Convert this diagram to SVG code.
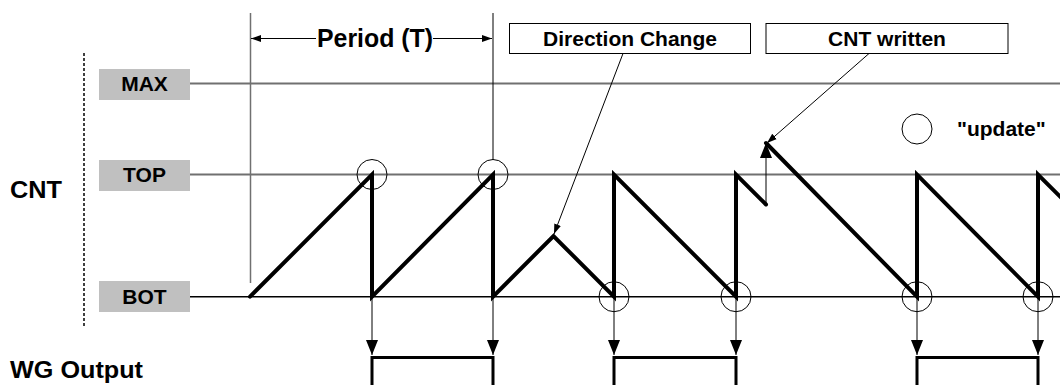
<svg xmlns="http://www.w3.org/2000/svg" width="1060" height="385" viewBox="0 0 1060 385">
<style>
text{font-family:"Liberation Sans",Arial,sans-serif;font-weight:bold;fill:#000}
.lvl{fill:#c0c0c0;stroke:none}
.lbl{font-size:21px;text-anchor:middle}
.big{font-size:23px}
.gl{stroke:#707070;stroke-width:2;fill:none}
.thin{stroke:#000;stroke-width:1;fill:none}
.wave{stroke:#000;stroke-width:4;fill:none;stroke-linejoin:miter;stroke-linecap:round}
.out{stroke:#000;stroke-width:3;fill:none}
.circ{stroke:#000;stroke-width:1;fill:none}
.box{fill:#fff;stroke:#000;stroke-width:1}
</style>
<defs>
<marker id="ah" viewBox="0 0 10 10" refX="10" refY="5" markerWidth="10" markerHeight="10" markerUnits="userSpaceOnUse" orient="auto">
<path d="M0,1.5 L10,5 L0,8.5 Z" fill="#000"/>
</marker>
<marker id="ahb" viewBox="0 0 12 12" refX="12" refY="6" markerWidth="15" markerHeight="12" markerUnits="userSpaceOnUse" orient="auto" preserveAspectRatio="none">
<path d="M0,0 L12,6 L0,12 Z" fill="#000"/>
</marker>
</defs>

<g id="axis">
<line x1="84" y1="53" x2="84" y2="327" stroke="#000" stroke-width="1.5" stroke-dasharray="3,2"/>
<line class="gl" x1="190" y1="83.5" x2="1060" y2="83.5"/>
<line class="gl" x1="190" y1="174.5" x2="1060" y2="174.5"/>
<line x1="190" y1="296.7" x2="1060" y2="296.7" stroke="#000" stroke-width="1.5"/>
<line x1="250.5" y1="13" x2="250.5" y2="283" stroke="#707070" stroke-width="1.5"/>
<line x1="493" y1="13" x2="493" y2="160" stroke="#000" stroke-width="1"/>
</g>

<g id="label-cnt"><text class="big" x="10" y="197.5" textLength="52" lengthAdjust="spacingAndGlyphs">CNT</text></g>
<g id="label-wg"><text class="big" x="10" y="378" textLength="133" lengthAdjust="spacingAndGlyphs">WG Output</text></g>

<g id="node-max"><rect class="lvl" x="99" y="69" width="91" height="31"/><text class="lbl" x="144.5" y="91">MAX</text></g>
<g id="node-top"><rect class="lvl" x="99" y="160" width="91" height="31"/><text class="lbl" x="144.5" y="182">TOP</text></g>
<g id="node-bot"><rect class="lvl" x="99" y="281" width="91" height="31"/><text class="lbl" x="144.5" y="303.5">BOT</text></g>

<g id="node-period"><text x="317" y="46.5" font-size="25" textLength="116" lengthAdjust="spacingAndGlyphs">Period (T)</text></g>
<g id="node-direction"><rect class="box" x="509.5" y="23.5" width="241" height="30"/><text class="lbl" x="630" y="45.5">Direction Change</text></g>
<g id="node-cntwritten"><rect class="box" x="766" y="23.5" width="242" height="30"/><text class="lbl" x="887" y="45.5">CNT written</text></g>
<g id="node-legend"><circle class="circ" cx="917" cy="129" r="15"/><text x="957" y="136" font-size="21">"update"</text></g>

<g id="node-waveform">
<path class="wave" d="M250,296.7 L372,174.5 L372,296.7 L493,174.5 L493,296.7 L553.5,236 L614,296.7 L614,174.5 L736,296.7 L736,174.5 L766,204.5"/>
<path class="wave" d="M766,143 L917,296.7 L917,174.5 L1038,296.7 L1038,174.5 L1070,206.5"/>
</g>

<g id="node-updates">
<circle class="circ" cx="372" cy="174.5" r="15"/>
<circle class="circ" cx="493" cy="174.5" r="15"/>
<circle class="circ" cx="614" cy="296.7" r="15"/>
<circle class="circ" cx="736" cy="296.7" r="15"/>
<circle class="circ" cx="917" cy="296.7" r="15"/>
<circle class="circ" cx="1038" cy="296.7" r="15"/>
</g>

<g id="node-wgoutput">
<path class="out" d="M372,385 L372,357.5 L493,357.5 L493,385"/>
<path class="out" d="M614,385 L614,357.5 L736,357.5 L736,385"/>
<path class="out" d="M917,385 L917,357.5 L1038,357.5 L1038,385"/>
</g>

<g id="connectors">
<line class="thin" x1="316" y1="38.5" x2="251" y2="38.5" marker-end="url(#ah)"/>
<line class="thin" x1="433" y1="38.5" x2="492" y2="38.5" marker-end="url(#ah)"/>
<line class="thin" x1="623" y1="53.5" x2="554" y2="234" marker-end="url(#ah)"/>
<line class="thin" x1="869" y1="53.5" x2="767" y2="143" marker-end="url(#ah)"/>
<line class="thin" x1="766" y1="205" x2="766" y2="143" marker-end="url(#ahb)"/>
<line class="thin" x1="372" y1="297" x2="372" y2="355" marker-end="url(#ahb)"/>
<line class="thin" x1="493" y1="297" x2="493" y2="355" marker-end="url(#ahb)"/>
<line class="thin" x1="614" y1="297" x2="614" y2="355" marker-end="url(#ahb)"/>
<line class="thin" x1="736" y1="297" x2="736" y2="355" marker-end="url(#ahb)"/>
<line class="thin" x1="917" y1="297" x2="917" y2="355" marker-end="url(#ahb)"/>
<line class="thin" x1="1038" y1="297" x2="1038" y2="355" marker-end="url(#ahb)"/>
</g>
</svg>
